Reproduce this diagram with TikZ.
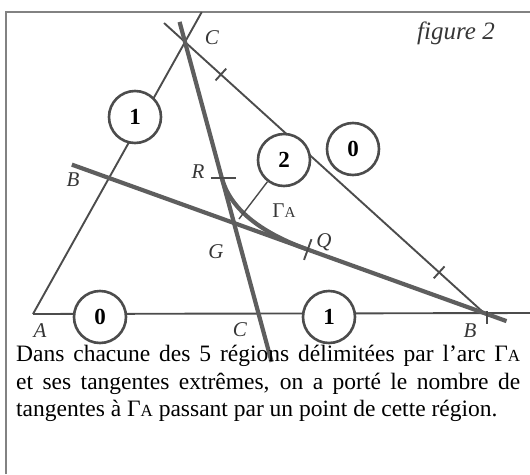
\documentclass[tikz,border=0pt]{standalone}
\usepackage{fontspec}
\setmainfont{Liberation Serif}
\usetikzlibrary{calc}
\definecolor{ink}{gray}{0.3}
\newcommand{\GA}{Γ\scalebox{0.72}{A}}

\begin{document}
\begin{tikzpicture}[x=1pt, y=-1pt,
    side/.style={draw=ink, line width=1.9pt},
    median/.style={draw=ink!90, line width=4.2pt},
    region/.style={circle, draw=ink, line width=2.6pt, fill=white,
                   minimum size=52pt, inner sep=0pt,
                   font=\fontsize{23}{23}\selectfont\bfseries},
    vlabel/.style={font=\fontsize{21}{21}\selectfont\itshape, text=ink!70!black,
                   inner sep=0pt},
    txt/.style={anchor=base west, inner sep=0pt, font=\fontsize{23.5}{28}\selectfont}
]
\useasboundingbox (0,0) rectangle (530,474);
% ============== frame ==================
\draw[draw=ink!70, line width=1.4pt] (6,474) -- (6,12) -- (530,12);
% ============== triangle and medians ==================
\coordinate (A) at (33,314);
\coordinate (B) at (484,313);
\coordinate (C) at (185,42);
\coordinate (Cm) at ($(A)!0.5!(B)$);
\coordinate (Bm) at ($(A)!0.5!(C)$);
\coordinate (G) at ($1/3*(A)+1/3*(B)+1/3*(C)$);
\coordinate (R) at ($(C)!0.5!(Cm)$);
\coordinate (Q) at ($(Bm)!0.53!(B)$);
% sides, running past C
\draw[side] (A) -- ($(A)!1.11!(C)$);
\draw[side] ($(B)!1.07!(C)$) -- (B);
\draw[side] (A) -- (530,313);
% the two extreme tangents (medians)
\draw[median] ($(Cm)!1.074!(C)$) -- ($(C)!1.178!(Cm)$);
\draw[median] ($(B)!1.099!(Bm)$) -- ($(Bm)!1.06!(B)$);
% arc Gamma_A, tangent at R and Q
\draw[median] (R) .. controls ($(R)!2/3!(G)$) and ($(Q)!2/3!(G)$) .. (Q);
% ticks
\coordinate (T1) at ($(C)!0.12!(B)$);
\coordinate (T2) at ($(C)!0.85!(B)$);
\draw[side] ($(T1)!8pt!90:(B)$) -- ($(T1)!8pt!-90:(B)$);
\draw[side] ($(T2)!8pt!90:(B)$) -- ($(T2)!8pt!-90:(B)$);
\draw[side] ($(R)+(-11,0)$) -- ($(R)+(14,0)$);
\draw[side] ($(Q)!11pt!90:(B)$) -- ($(Q)!11pt!-90:(B)$);
\draw[side] ($(B)+(3,-2)$) -- ($(B)+(3,11)$);
% ============== region counts ==================
\node[region] (r1a) at (135,117) {1};
\node[region] (r2)  at (284,160) {2};
\node[region] (r0a) at (353,149) {0};
\node[region] (r0b) at (100,317) {0};
\node[region] (r1b) at (329,317) {1};
\coordinate (pin) at (239,219);
\draw[side, line width=1.4pt] (r2) -- (pin);
% ============== labels ==================
\node[vlabel] (lC)  at (212,38)  {C};
\node[vlabel] (lB1) at (73,180)  {B};
\node[vlabel] (lR)  at (198,172) {R};
\node[vlabel] (lG)  at (216,252) {G};
\node[vlabel] (lQ)  at (324,242) {Q};
\node[vlabel] (lA)  at (40,331)  {A};
\node[vlabel] (lC1) at (240,330) {C};
\node[vlabel] (lB)  at (470,331) {B};
\node[vlabel, font=\fontsize{21}{21}\selectfont\upshape] (lGam) at (284,211) {\GA};
\node[vlabel, font=\fontsize{25}{25}\selectfont\itshape] (fig) at (456,33) {figure 2};
% ============== caption ==================
\node[txt] (l1) at (16,361) {\makebox[504pt][s]{Dans chacune des 5 régions délimitées par l'arc \GA}};
\node[txt] (l2) at (16,389) {\makebox[504pt][s]{et ses tangentes extrêmes, on a porté le nombre de}};
\node[txt] (l3) at (16,416) {tangentes à \GA{} passant par un point de cette région.};
\end{tikzpicture}
\end{document}
